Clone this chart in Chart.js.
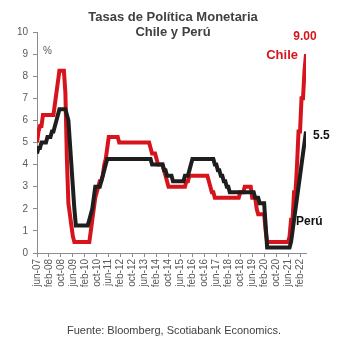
<!DOCTYPE html>
<html>
<head>
<meta charset="utf-8">
<script src="https://cdn.jsdelivr.net/npm/chart.js@4.4.1/dist/chart.umd.min.js"></script>
<style>
  html, body { margin: 0; padding: 0; background: #fff; }
  #wrap { width: 350px; height: 355px; }
</style>
</head>
<body>
<div id="wrap"><canvas id="tpmChart" width="350" height="355"></canvas></div>
<script>
// Monthly policy rates (%), jun-07 .. jun-22, one row per calendar year
const chileRate = [
  5.0, 5.5, 5.75, 5.75, 6.25, 6.25, 6.25,                              // 2007 (jun-dec)
  6.25, 6.25, 6.25, 6.25, 6.25, 6.75, 7.25, 7.75, 8.25, 8.25, 8.25, 8.25, // 2008
  7.25, 4.25, 2.25, 1.75, 1.25, 0.75, 0.5, 0.5, 0.5, 0.5, 0.5, 0.5,     // 2009
  0.5, 0.5, 0.5, 0.5, 0.5, 1.0, 1.5, 2.0, 2.5, 2.75, 3.0, 3.25,         // 2010
  3.25, 3.5, 4.0, 4.25, 4.75, 5.25, 5.25, 5.25, 5.25, 5.25, 5.25, 5.25, // 2011
  5.0, 5.0, 5.0, 5.0, 5.0, 5.0, 5.0, 5.0, 5.0, 5.0, 5.0, 5.0,           // 2012
  5.0, 5.0, 5.0, 5.0, 5.0, 5.0, 5.0, 5.0, 5.0, 4.75, 4.5, 4.5,          // 2013
  4.5, 4.25, 4.0, 4.0, 4.0, 4.0, 3.75, 3.5, 3.25, 3.0, 3.0, 3.0,        // 2014
  3.0, 3.0, 3.0, 3.0, 3.0, 3.0, 3.0, 3.0, 3.0, 3.25, 3.25, 3.5,         // 2015
  3.5, 3.5, 3.5, 3.5, 3.5, 3.5, 3.5, 3.5, 3.5, 3.5, 3.5, 3.5,           // 2016
  3.25, 3.0, 2.75, 2.75, 2.5, 2.5, 2.5, 2.5, 2.5, 2.5, 2.5, 2.5,        // 2017
  2.5, 2.5, 2.5, 2.5, 2.5, 2.5, 2.5, 2.5, 2.5, 2.75, 2.75, 2.75,        // 2018
  3.0, 3.0, 3.0, 3.0, 3.0, 2.5, 2.5, 2.5, 2.0, 1.75, 1.75, 1.75,        // 2019
  1.75, 1.75, 1.0, 0.5, 0.5, 0.5, 0.5, 0.5, 0.5, 0.5, 0.5, 0.5,         // 2020
  0.5, 0.5, 0.5, 0.5, 0.5, 0.5, 0.75, 1.5, 1.5, 2.75, 2.75, 4.0,        // 2021
  5.5, 5.5, 7.0, 7.0, 8.25, 9.0                                         // 2022 (jan-jun)
];

const peruRate = [
  4.5, 4.75, 4.75, 5.0, 5.0, 5.0, 5.0,                                  // 2007 (jun-dec)
  5.25, 5.25, 5.25, 5.5, 5.5, 5.75, 6.0, 6.25, 6.5, 6.5, 6.5, 6.5,      // 2008
  6.5, 6.25, 6.0, 5.0, 4.0, 3.0, 2.0, 1.25, 1.25, 1.25, 1.25, 1.25,     // 2009
  1.25, 1.25, 1.25, 1.25, 1.5, 1.75, 2.0, 2.5, 3.0, 3.0, 3.0, 3.0,      // 2010
  3.25, 3.5, 3.75, 4.0, 4.25, 4.25, 4.25, 4.25, 4.25, 4.25, 4.25, 4.25, // 2011
  4.25, 4.25, 4.25, 4.25, 4.25, 4.25, 4.25, 4.25, 4.25, 4.25, 4.25, 4.25, // 2012
  4.25, 4.25, 4.25, 4.25, 4.25, 4.25, 4.25, 4.25, 4.25, 4.25, 4.0, 4.0, // 2013
  4.0, 4.0, 4.0, 4.0, 4.0, 4.0, 3.75, 3.75, 3.5, 3.5, 3.5, 3.5,         // 2014
  3.25, 3.25, 3.25, 3.25, 3.25, 3.25, 3.25, 3.25, 3.5, 3.5, 3.5, 3.75,  // 2015
  4.0, 4.25, 4.25, 4.25, 4.25, 4.25, 4.25, 4.25, 4.25, 4.25, 4.25, 4.25, // 2016
  4.25, 4.25, 4.25, 4.25, 4.0, 4.0, 3.75, 3.75, 3.5, 3.5, 3.25, 3.25,   // 2017
  3.0, 3.0, 2.75, 2.75, 2.75, 2.75, 2.75, 2.75, 2.75, 2.75, 2.75, 2.75, // 2018
  2.75, 2.75, 2.75, 2.75, 2.75, 2.75, 2.75, 2.5, 2.5, 2.5, 2.25, 2.25,  // 2019
  2.25, 2.25, 1.25, 0.25, 0.25, 0.25, 0.25, 0.25, 0.25, 0.25, 0.25, 0.25, // 2020
  0.25, 0.25, 0.25, 0.25, 0.25, 0.25, 0.25, 0.5, 1.0, 1.5, 2.0, 2.5,    // 2021
  3.0, 3.5, 4.0, 4.5, 5.0, 5.5                                          // 2022 (jan-jun)
];

// one tick label every 8 months, starting at jun-07
const xTickLabels = [
  'jun-07', 'feb-08', 'oct-08', 'jun-09', 'feb-10', 'oct-10', 'jun-11', 'feb-12',
  'oct-12', 'jun-13', 'feb-14', 'oct-14', 'jun-15', 'feb-16', 'oct-16', 'jun-17',
  'feb-18', 'oct-18', 'jun-19', 'feb-20', 'oct-20', 'jun-21', 'feb-22'
];
const yTicks = [0, 1, 2, 3, 4, 5, 6, 7, 8, 9, 10];

const RED = '#d7141c';
const DARK = '#1e1e1e';
const GRAY_TXT = '#595959';
const FONT = '"Liberation Sans", Arial, sans-serif';

// title, series labels and source note drawn on top of the chart
const overlayText = {
  id: 'overlayText',
  afterDraw(chart) {
    const ctx = chart.ctx;
    const x = chart.scales.x, y = chart.scales.y;
    const lastIdx = chileRate.length - 1;
    ctx.save();
    ctx.textBaseline = 'middle';

    ctx.fillStyle = '#404040';
    ctx.textAlign = 'center';
    ctx.font = 'bold 13px ' + FONT;
    ctx.fillText('Tasas de Política Monetaria', 173, 17);
    ctx.fillText('Chile y Perú', 173, 32);

    ctx.font = '11px ' + FONT;
    ctx.fillStyle = '#404040';
    ctx.fillText('Fuente: Bloomberg, Scotiabank Economics.', 174, 331);

    ctx.textAlign = 'left';
    ctx.fillStyle = GRAY_TXT;
    ctx.font = '10px ' + FONT;
    ctx.fillText('%', 43, 51);

    const chileEnd = chileRate[lastIdx];
    const peruEnd = peruRate[lastIdx];
    const xe = x.getPixelForValue(lastIdx);

    ctx.font = 'bold 12px ' + FONT;
    ctx.fillStyle = RED;
    ctx.textAlign = 'center';
    ctx.fillText(chileEnd.toFixed(2), xe - 1, y.getPixelForValue(chileEnd) - 17);
    ctx.textAlign = 'right';
    ctx.font = 'bold 13px ' + FONT;
    ctx.fillText('Chile', xe - 8, y.getPixelForValue(chileEnd) + 1);

    ctx.fillStyle = '#111';
    ctx.textAlign = 'left';
    ctx.font = 'bold 12px ' + FONT;
    ctx.fillText(String(peruEnd), xe + 7, y.getPixelForValue(peruEnd) + 4);
    ctx.font = 'bold 12px ' + FONT;
    ctx.fillText('Perú', xe - 10, y.getPixelForValue(1.4));
    ctx.restore();
  }
};

const ctx = document.getElementById('tpmChart').getContext('2d');
new Chart(ctx, {
  type: 'line',
  data: {
    datasets: [
      {
        label: 'Perú',
        data: peruRate.map((v, i) => ({ x: i, y: v })),
        borderColor: DARK,
        borderWidth: 4,
        pointRadius: 0,
        tension: 0,
        fill: false
      },
      {
        label: 'Chile',
        data: chileRate.map((v, i) => ({ x: i, y: v })),
        borderColor: RED,
        borderWidth: 4,
        pointRadius: 0,
        tension: 0,
        fill: false
      }
    ]
  },
  options: {
    responsive: false,
    animation: false,
    devicePixelRatio: 1,
    layout: { padding: { top: 32, right: 44, bottom: 62, left: 0 } },
    plugins: {
      legend: { display: false },
      title: { display: false },
      tooltip: { enabled: false }
    },
    scales: {
      x: {
        type: 'linear',
        min: 0,
        max: 180,
        afterBuildTicks(scale) {
          scale.ticks = xTickLabels.map((_, i) => ({ value: i * 8 }));
        },
        afterFit(scale) { scale.height = 40; },
        border: { display: true, color: '#8c8c8c', width: 1 },
        grid: { display: true, drawOnChartArea: false, drawTicks: true, tickLength: 4, color: '#8c8c8c' },
        ticks: {
          autoSkip: false,
          maxRotation: 90,
          minRotation: 90,
          padding: 2,
          color: GRAY_TXT,
          font: { family: FONT, size: 10 },
          callback: (v) => xTickLabels[Math.round(v / 8)]
        }
      },
      y: {
        min: 0,
        max: 10,
        afterBuildTicks(scale) {
          scale.ticks = yTicks.map(v => ({ value: v }));
        },
        afterFit(scale) { scale.width = 37; },
        border: { display: true, color: '#8c8c8c', width: 1 },
        grid: { display: true, drawOnChartArea: false, drawTicks: true, tickLength: 4, color: '#8c8c8c' },
        ticks: {
          padding: 5,
          color: GRAY_TXT,
          font: { family: FONT, size: 10 }
        }
      }
    }
  },
  plugins: [overlayText]
});
</script>
</body>
</html>
